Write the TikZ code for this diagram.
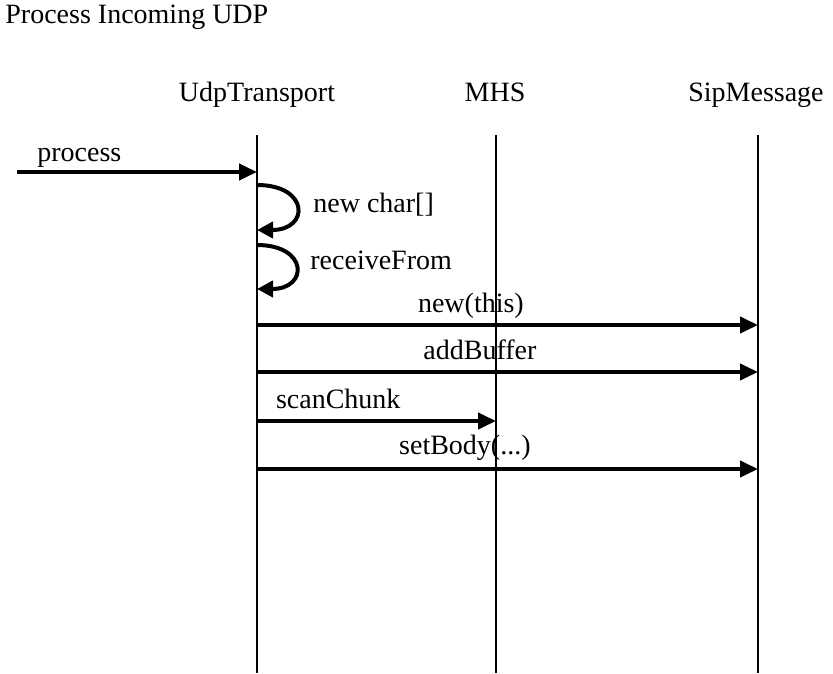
\documentclass[tikz,border=0pt]{standalone}
\usepackage{fontspec}
\setmainfont{Liberation Serif}
\usetikzlibrary{arrows.meta,positioning,calc}
\tikzset{
    object/.style={
        anchor=base,
        inner sep=0pt,
    },
    lifeline/.style={
        line width=1pt,
        draw=black,
    },
    msg/.style={
        line width=2pt,
        -{Triangle[length=9pt,width=8pt]},
    },
    selfmsg/.style={
        line width=2pt,
        -{Triangle[length=8pt,width=8pt]},
        looseness=3,
    },
    msglabel/.style={
        anchor=base,
        inner sep=0pt,
        yshift=6.5pt,
    },
}

\begin{document}
\begin{tikzpicture}[
    x=0.5pt,
    y=-0.5pt,
    font=\fontsize{14}{16}\selectfont]

\useasboundingbox (0,0) rectangle (833,673);

% Title
\node [anchor=base west, inner sep=0pt] (title) at (5,24) {Process Incoming UDP};

% Objects
\node [object] (udp) at (257,102) {UdpTransport};
\node [object] (mhs) at (495,102) {MHS};
\node [object] (sip) at (756,102) {SipMessage};

% Lifelines
\coordinate (udp_top) at (257,135);
\coordinate (udp_end) at (257,673);
\coordinate (mhs_top) at (496,135);
\coordinate (mhs_end) at (496,673);
\coordinate (sip_top) at (758,135);
\coordinate (sip_end) at (758,673);
\draw [lifeline] (udp_top) -- (udp_end);
\draw [lifeline] (mhs_top) -- (mhs_end);
\draw [lifeline] (sip_top) -- (sip_end);

% Message points
\coordinate (caller) at (17,172);
\coordinate (udp_p) at (257,172);
\coordinate (udp_c1) at (257,185);
\coordinate (udp_c2) at (257,230);
\coordinate (udp_r1) at (257,245);
\coordinate (udp_r2) at (257,289);
\coordinate (udp_n) at (257,325);
\coordinate (sip_n) at (758,325);
\coordinate (udp_a) at (257,372);
\coordinate (sip_a) at (758,372);
\coordinate (udp_s) at (257,421);
\coordinate (mhs_s) at (496,421);
\coordinate (udp_b) at (257,469);
\coordinate (sip_b) at (758,469);

% Calls
\path [msg]
    (caller) edge
        node [msglabel, pos=0.26, yshift=-1.5pt] {process} (udp_p)
    (udp_n) edge
        node [msglabel, pos=0.427] {new(this)} (sip_n)
    (udp_a) edge
        node [msglabel, pos=0.445] {addBuffer} (sip_a)
    (udp_s) edge
        node [msglabel, pos=0.34] {scanChunk} (mhs_s)
    (udp_b) edge
        node [msglabel, pos=0.415, yshift=1pt] {setBody(...)} (sip_b);

% Self calls
\draw [selfmsg] (udp_c1) to [out=0, in=0] (udp_c2);
\draw [selfmsg] (udp_r1) to [out=0, in=0] (udp_r2);
\node [anchor=base west, inner sep=0pt] (l_char) at (313,213) {new char[]};
\node [anchor=base west, inner sep=0pt] (l_recv) at (310,270) {receiveFrom};

\end{tikzpicture}
\end{document}
